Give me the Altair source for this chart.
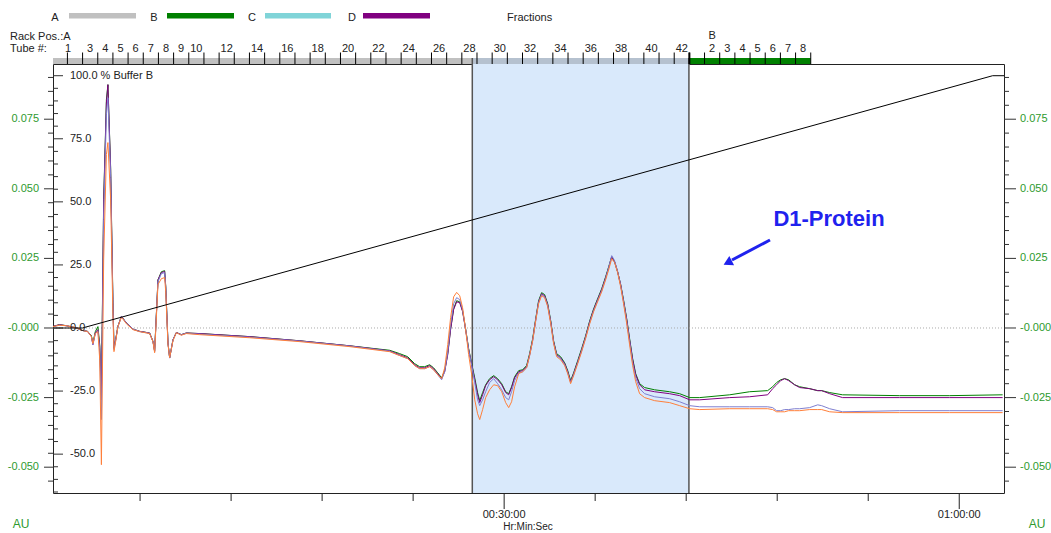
import altair as alt
import pandas as pd

FONT = "Liberation Sans"
GREEN_TXT = "#2e9a2e"

# ---------------- data ----------------
time_min = [0.26, 0.70, 1.16, 1.82, 2.21, 2.54, 2.79, 2.89, 3.05, 3.22,
            3.34, 3.45, 3.60, 3.78, 3.88, 4.06, 4.21, 4.28, 4.39, 4.54,
            4.77, 5.10, 5.53, 5.97, 6.63, 6.85, 6.96, 7.18, 7.40, 7.62,
            7.69, 7.84, 7.95, 8.17, 8.39, 8.72, 9.05, 9.93, 13.22, 16.52,
            19.82, 22.45, 23.11, 23.64, 24.10, 24.43, 24.76, 25.09, 25.35, 25.62,
            25.88, 26.08, 26.28, 26.47, 26.67, 26.87, 27.07, 27.26, 27.46, 27.66,
            27.86, 28.06, 28.25, 28.39, 28.58, 28.78, 29.04, 29.31, 29.57, 29.84,
            30.10, 30.30, 30.49, 30.69, 30.96, 31.22, 31.48, 31.68, 31.88, 32.08,
            32.27, 32.47, 32.67, 32.87, 33.07, 33.26, 33.46, 33.72, 33.99, 34.19,
            34.38, 34.58, 34.85, 35.11, 35.37, 35.64, 35.90, 36.16, 36.43, 36.69,
            36.89, 37.09, 37.28, 37.48, 37.68, 37.88, 38.08, 38.27, 38.47, 38.67,
            38.93, 39.26, 39.92, 40.91, 41.57, 42.23, 42.89, 44.87, 46.18, 47.37,
            47.70, 47.96, 48.23, 48.49, 48.75, 49.15, 49.48, 50.14, 50.67, 50.93,
            51.46, 52.31, 56.07, 59.37, 62.86]

au_purple = [0.0006, 0.0012, 0.0008, 0.0, -0.0009, -0.0012, -0.0030, -0.0060, -0.0017, -0.0006,
             -0.0066, -0.0258, 0.0450, 0.0809, 0.0874, 0.0569, 0.0091, -0.0074, -0.0042, 0.0006,
             0.0042, 0.0018, -0.0004, -0.0012, -0.0018, -0.0048, -0.0084, 0.0173, 0.0199, 0.0203,
             0.0149, -0.0054, -0.0108, -0.0042, -0.0016, -0.0024, -0.0018, -0.0020, -0.0031, -0.0046,
             -0.0064, -0.0082, -0.0096, -0.0107, -0.0132, -0.0143, -0.0143, -0.0135, -0.0146, -0.0164,
             -0.0182, -0.0157, -0.0096, -0.0006, 0.0066, 0.0094, 0.0091, 0.0059, -0.0006, -0.0078,
             -0.0132, -0.0186, -0.0240, -0.0268, -0.0240, -0.0207, -0.0186, -0.0175, -0.0186, -0.0204,
             -0.0232, -0.0240, -0.0214, -0.0179, -0.0157, -0.0153, -0.0139, -0.0096, -0.0042, 0.0030,
             0.0094, 0.0123, 0.0116, 0.0084, 0.0023, -0.0049, -0.0096, -0.0107, -0.0128, -0.0157,
             -0.0193, -0.0164, -0.0121, -0.0078, -0.0031, 0.0023, 0.0066, 0.0102, 0.0138, 0.0181,
             0.0217, 0.0256, 0.0238, 0.0202, 0.0156, 0.0094, 0.0030, -0.0042, -0.0114, -0.0168,
             -0.0204, -0.0222, -0.0229, -0.0236, -0.0243, -0.0258, -0.0258, -0.0250, -0.0247, -0.0240,
             -0.0218, -0.0204, -0.0189, -0.0182, -0.0189, -0.0204, -0.0214, -0.0218, -0.0225, -0.0225,
             -0.0236, -0.0250, -0.0250, -0.0250, -0.0250]

au_green = [0.0006, 0.0012, 0.0008, 0.0, -0.0009, -0.0012, -0.0028, -0.0053, -0.0013, 0.0005,
            -0.0060, -0.0240, 0.0461, 0.0820, 0.0874, 0.0576, 0.0102, -0.0071, -0.0042, 0.0006,
            0.0042, 0.0018, -0.0004, -0.0012, -0.0018, -0.0048, -0.0082, 0.0173, 0.0202, 0.0206,
            0.0152, -0.0053, -0.0107, -0.0042, -0.0016, -0.0024, -0.0018, -0.0020, -0.0031, -0.0046,
            -0.0064, -0.0080, -0.0092, -0.0103, -0.0128, -0.0139, -0.0139, -0.0132, -0.0143, -0.0161,
            -0.0179, -0.0153, -0.0092, -0.0003, 0.0069, 0.0098, 0.0094, 0.0062, -0.0003, -0.0074,
            -0.0128, -0.0179, -0.0232, -0.0261, -0.0232, -0.0204, -0.0182, -0.0171, -0.0182, -0.0200,
            -0.0229, -0.0236, -0.0211, -0.0175, -0.0153, -0.0150, -0.0135, -0.0092, -0.0038, 0.0033,
            0.0098, 0.0127, 0.0120, 0.0087, 0.0026, -0.0046, -0.0092, -0.0103, -0.0125, -0.0153,
            -0.0189, -0.0161, -0.0117, -0.0074, -0.0028, 0.0026, 0.0069, 0.0105, 0.0141, 0.0184,
            0.0220, 0.0256, 0.0238, 0.0202, 0.0156, 0.0098, 0.0033, -0.0038, -0.0110, -0.0164,
            -0.0200, -0.0214, -0.0222, -0.0229, -0.0236, -0.0250, -0.0250, -0.0240, -0.0229, -0.0225,
            -0.0211, -0.0196, -0.0186, -0.0182, -0.0186, -0.0204, -0.0211, -0.0218, -0.0225, -0.0225,
            -0.0232, -0.0240, -0.0243, -0.0243, -0.0240]

au_blue = [0.0005, 0.0010, 0.0008, 0.0, -0.0009, -0.0013, -0.0031, -0.0060, -0.0020, -0.0010,
           -0.0078, -0.0329, 0.0389, 0.0766, 0.0827, 0.0540, 0.0084, -0.0078, -0.0046, 0.0005,
           0.0041, 0.0017, -0.0004, -0.0013, -0.0019, -0.0049, -0.0085, 0.0166, 0.0195, 0.0199,
           0.0145, -0.0053, -0.0107, -0.0042, -0.0017, -0.0024, -0.0019, -0.0022, -0.0033, -0.0047,
           -0.0065, -0.0083, -0.0099, -0.0110, -0.0135, -0.0146, -0.0146, -0.0139, -0.0150, -0.0168,
           -0.0186, -0.0157, -0.0085, 0.0012, 0.0087, 0.0109, 0.0102, 0.0066, -0.0003, -0.0078,
           -0.0135, -0.0196, -0.0258, -0.0279, -0.0258, -0.0229, -0.0196, -0.0182, -0.0200, -0.0222,
           -0.0250, -0.0258, -0.0229, -0.0189, -0.0161, -0.0157, -0.0143, -0.0099, -0.0046, 0.0026,
           0.0091, 0.0120, 0.0112, 0.0080, 0.0019, -0.0053, -0.0099, -0.0110, -0.0132, -0.0161,
           -0.0196, -0.0168, -0.0125, -0.0082, -0.0035, 0.0019, 0.0062, 0.0098, 0.0134, 0.0177,
           0.0217, 0.0260, 0.0242, 0.0202, 0.0152, 0.0091, 0.0023, -0.0049, -0.0125, -0.0179,
           -0.0218, -0.0236, -0.0247, -0.0254, -0.0265, -0.0279, -0.0283, -0.0283, -0.0283, -0.0283,
           -0.0286, -0.0297, -0.0297, -0.0293, -0.0293, -0.0290, -0.0290, -0.0286, -0.0276, -0.0279,
           -0.0290, -0.0301, -0.0297, -0.0297, -0.0297]

au_orange = [0.0005, 0.0010, 0.0008, 0.0, -0.0009, -0.0013, -0.0031, -0.0056, -0.0020, -0.0013,
             -0.0114, -0.0491, 0.0245, 0.0623, 0.0666, 0.0461, 0.0048, -0.0085, -0.0049, 0.0005,
             0.0039, 0.0015, -0.0006, -0.0013, -0.0020, -0.0049, -0.0089, 0.0156, 0.0177, 0.0181,
             0.0130, -0.0060, -0.0106, -0.0046, -0.0017, -0.0026, -0.0020, -0.0024, -0.0035, -0.0049,
             -0.0067, -0.0085, -0.0099, -0.0110, -0.0135, -0.0146, -0.0146, -0.0139, -0.0150, -0.0168,
             -0.0182, -0.0143, -0.0060, 0.0037, 0.0112, 0.0128, 0.0116, 0.0073, -0.0006, -0.0096,
             -0.0168, -0.0258, -0.0308, -0.0329, -0.0293, -0.0250, -0.0222, -0.0204, -0.0207, -0.0229,
             -0.0268, -0.0286, -0.0265, -0.0211, -0.0164, -0.0157, -0.0143, -0.0099, -0.0046, 0.0026,
             0.0087, 0.0116, 0.0109, 0.0077, 0.0015, -0.0056, -0.0103, -0.0114, -0.0135, -0.0164,
             -0.0200, -0.0171, -0.0128, -0.0085, -0.0038, 0.0015, 0.0059, 0.0094, 0.0130, 0.0173,
             0.0209, 0.0249, 0.0235, 0.0199, 0.0148, 0.0084, 0.0015, -0.0060, -0.0135, -0.0193,
             -0.0236, -0.0250, -0.0261, -0.0268, -0.0279, -0.0290, -0.0293, -0.0290, -0.0290, -0.0290,
             -0.0293, -0.0301, -0.0301, -0.0301, -0.0297, -0.0297, -0.0297, -0.0293, -0.0293, -0.0293,
             -0.0301, -0.0304, -0.0304, -0.0304, -0.0304]

# % Buffer B gradient
grad_time = [0.26, 2.20, 62.20, 62.95]
grad_pct = [0.0, 0.0, 100.0, 100.0]

# collected fractions (time window highlighted)
box_start = [27.90]
box_end = [42.18]

# fraction collector racks
rack_names = ["A", "B"]
rack_start = [0.26, 42.21]
rack_end = [42.21, 50.21]
rack_colors = ["#c0c0c0", "#008000"]
tube_ends = [k + 0.21 for k in range(1, 51)]          # 1 min fractions
a_labels = [1, 3, 4, 5, 6, 7, 8, 9, 10] + list(range(12, 43, 2))
b_labels = [2, 3, 4, 5, 6, 7, 8]

# axes
au_major = [-0.050, -0.025, 0.0, 0.025, 0.050, 0.075]
au_major_lab = ["-0.050", "-0.025", "-0.000", "0.025", "0.050", "0.075"]
au_minor = [-0.055, -0.045, -0.040, -0.035, -0.030, -0.020, -0.015, -0.010, -0.005,
            0.005, 0.010, 0.015, 0.020, 0.030, 0.035, 0.040, 0.045, 0.055, 0.060,
            0.065, 0.070, 0.080, 0.085, 0.090]
pct_major = [-50, -25, 0, 25, 50, 75, 100]
pct_major_lab = ["-50.0", "-25.0", "0.0", "25.0", "50.0", "75.0", "100.0 % Buffer B"]
pct_minor = [-65, -60, -55, -45, -40, -35, -30, -20, -15, -10, -5, 5, 10, 15, 20,
             30, 35, 40, 45, 55, 60, 65, 70, 80, 85, 90, 95]
time_minor = [6, 12, 18, 24, 36, 42, 48, 54]
time_major = [30, 60]
time_major_lab = ["00:30:00", "01:00:00"]

legend_names = ["A", "B", "C", "D"]
legend_colors = ["#c0c0c0", "#008000", "#80d4d8", "#800080"]

# ---------------- chart ----------------
W, H = 951, 429
xs = alt.Scale(domain=[0.26, 62.95], nice=False, zero=False)
ys_au = alt.Scale(domain=[-0.05927, 0.09483], nice=False, zero=False)
ys_pct = alt.Scale(domain=[-65.40, 104.64], nice=False, zero=False)
one = pd.DataFrame({"a": [0]})


def X(f):
    return alt.X(f, type="quantitative", scale=xs, axis=None)


def YA(f):
    return alt.Y(f, type="quantitative", scale=ys_au, axis=None)


def YP(f):
    return alt.Y(f, type="quantitative", scale=ys_pct, axis=None)


def rule_px(x1, x2, y1, y2, color="#000", width=1):
    return alt.Chart(one).mark_rule(color=color, strokeWidth=width).encode(
        x=alt.value(x1), x2=alt.value(x2), y=alt.value(y1), y2=alt.value(y2))


def text_px(s, x, y, size=11, color="#222", align="left", baseline="alphabetic", weight="normal"):
    return alt.Chart(one).mark_text(text=s, align=align, baseline=baseline, fontSize=size,
                                    color=color, font=FONT, fontWeight=weight).encode(
        x=alt.value(x), y=alt.value(y))


layers = []

# highlighted collection window
box_df = pd.DataFrame({"s": box_start, "e": box_end})
layers.append(alt.Chart(box_df).mark_rect(color="#d9e9fb").encode(
    x=X("s"), x2="e", y=alt.value(0), y2=alt.value(H)))

# fraction bars
rack_df = pd.DataFrame({"r": rack_names, "s": rack_start, "e": rack_end, "c": rack_colors})
layers.append(alt.Chart(rack_df).mark_rect().encode(
    x=X("s"), x2="e", y=alt.value(-6), y2=alt.value(0),
    color=alt.Color("c:N", scale=None)))
layers.append(alt.Chart(box_df).mark_rect(color="#a9c4e2", opacity=0.45).encode(
    x=X("s"), x2="e", y=alt.value(-6), y2=alt.value(0)))
# window borders
bord_df = pd.DataFrame({"t": box_start + box_end})
layers.append(alt.Chart(bord_df).mark_rule(color="#555", strokeWidth=1.5).encode(
    x=X("t"), y=alt.value(-6), y2=alt.value(H)))

# zero line
layers.append(alt.Chart(pd.DataFrame({"v": [0.0]})).mark_rule(
    color="#aaa", strokeDash=[1, 2], strokeWidth=1).encode(
    y=YA("v"), x=alt.value(0), x2=alt.value(W)))

# UV traces
df = pd.DataFrame({"t": time_min, "g": au_green, "p": au_purple, "b": au_blue, "o": au_orange})
for col, c in [("g", "#008000"), ("p", "#800080"), ("b", "#7f7fd0"), ("o", "#ff7f3a")]:
    layers.append(alt.Chart(df).mark_line(color=c, strokeWidth=1).encode(x=X("t"), y=YA(col)))

# gradient
grad_df = pd.DataFrame({"t": grad_time, "p": grad_pct})
layers.append(alt.Chart(grad_df).mark_line(color="#000", strokeWidth=1).encode(x=X("t"), y=YP("p")))

# fraction ticks
tick_df = pd.DataFrame({"t": tube_ends})
layers.append(alt.Chart(tick_df).mark_rule(color="#000", strokeWidth=1).encode(
    x=X("t"), y=alt.value(-11.5), y2=alt.value(0)))
layers.append(alt.Chart(pd.DataFrame({"t": [rack_end[0]]})).mark_rule(color="#000", strokeWidth=2).encode(
    x=X("t"), y=alt.value(-11.5), y2=alt.value(0)))

# fraction labels
lab_t = [tube_ends[0] + 0.04] + [k - 0.29 for k in a_labels[1:]] + [rack_start[1] + k - 0.5 for k in b_labels]
lab_s = [str(k) for k in a_labels] + [str(k) for k in b_labels]
flab_df = pd.DataFrame({"t": lab_t, "s": lab_s})
layers.append(alt.Chart(flab_df).mark_text(fontSize=11, font=FONT, color="#222", align="center",
                                           baseline="alphabetic").encode(
    x=X("t"), y=alt.value(-12.5), text="s:N"))
layers.append(alt.Chart(pd.DataFrame({"t": [rack_start[1] + 1.5], "s": ["B"]})).mark_text(
    fontSize=11, font=FONT, color="#222", align="center", baseline="alphabetic").encode(
    x=X("t"), y=alt.value(-25), text="s:N"))

# left / right AU ticks and labels
aumaj = pd.DataFrame({"v": au_major, "s": au_major_lab})
aumin = pd.DataFrame({"v": au_minor})
layers.append(alt.Chart(aumaj).mark_rule(color="#333").encode(y=YA("v"), x=alt.value(-9), x2=alt.value(0)))
layers.append(alt.Chart(aumin).mark_rule(color="#333").encode(y=YA("v"), x=alt.value(-5), x2=alt.value(0)))
layers.append(alt.Chart(aumaj).mark_rule(color="#333").encode(y=YA("v"), x=alt.value(W), x2=alt.value(W + 12)))
layers.append(alt.Chart(aumin).mark_rule(color="#333").encode(y=YA("v"), x=alt.value(W), x2=alt.value(W + 5)))
layers.append(alt.Chart(aumaj).mark_text(fontSize=11, font=FONT, color=GREEN_TXT, align="right",
                                         baseline="middle").encode(y=YA("v"), x=alt.value(-14), text="s:N"))
layers.append(alt.Chart(aumaj).mark_text(fontSize=11, font=FONT, color=GREEN_TXT, align="left",
                                         baseline="middle").encode(y=YA("v"), x=alt.value(W + 16), text="s:N"))

# % Buffer B ticks and labels (inside)
pmaj = pd.DataFrame({"v": pct_major, "s": pct_major_lab})
pmin = pd.DataFrame({"v": pct_minor})
layers.append(alt.Chart(pmaj).mark_rule(color="#333").encode(y=YP("v"), x=alt.value(0), x2=alt.value(10)))
layers.append(alt.Chart(pmin).mark_rule(color="#333").encode(y=YP("v"), x=alt.value(0), x2=alt.value(5)))
layers.append(alt.Chart(pmaj).mark_text(fontSize=11, font=FONT, color="#222", align="left",
                                        baseline="middle").encode(y=YP("v"), x=alt.value(17), text="s:N"))

# time axis
layers.append(alt.Chart(pd.DataFrame({"t": time_minor})).mark_rule(color="#222").encode(
    x=X("t"), y=alt.value(H), y2=alt.value(H + 8)))
tmaj = pd.DataFrame({"t": time_major, "s": time_major_lab})
layers.append(alt.Chart(tmaj).mark_rule(color="#222").encode(
    x=X("t"), y=alt.value(H), y2=alt.value(H + 16)))
layers.append(alt.Chart(tmaj).mark_text(fontSize=11, font=FONT, color="#222", align="center",
                                        baseline="alphabetic").encode(
    x=X("t"), y=alt.value(H + 25), text="s:N"))
layers.append(text_px("Hr:Min:Sec", 475, H + 37, size=10, align="center"))
layers.append(text_px("AU", -32, H + 35, color=GREEN_TXT, align="center", size=12))
layers.append(text_px("AU", 984, H + 35, color=GREEN_TXT, align="center", size=12))

# header texts
layers.append(text_px("Rack Pos.:A", -43, -24))
layers.append(text_px("Tube #:", -43, -12))
leg_text_x = [2, 101, 199, 299]
leg_bar_x = [(16, 83), (114, 181), (212, 278), (310, 377)]
for n, c, tx, (b1, b2) in zip(legend_names, legend_colors, leg_text_x, leg_bar_x):
    layers.append(text_px(n, tx, -43.5, align="center"))
    layers.append(alt.Chart(one).mark_rect(color=c).encode(
        x=alt.value(b1), x2=alt.value(b2), y=alt.value(-51), y2=alt.value(-45.5)))
layers.append(text_px("Fractions", 454, -43.5))

# annotation
layers.append(text_px("D1-Protein", 776, 155, size=22, color="#1f22ee", align="center",
                      baseline="middle", weight="bold"))
layers.append(rule_px(717, 679, 176, 196, color="#1f22ee", width=3))
layers.append(alt.Chart(one).mark_point(shape="triangle", filled=True, size=110, angle=243,
                                        color="#1f22ee", opacity=1).encode(
    x=alt.value(676), y=alt.value(198)))

chart = alt.layer(*layers).resolve_scale(y="independent").properties(
    width=W, height=H,
    padding={"left": 53, "top": 64, "right": 47, "bottom": 40},
    autosize=alt.AutoSizeParams(type="none"),
    background="white",
).configure_view(stroke="#222", strokeWidth=1)

chart.save("out.html", embed_options={"renderer": "svg", "actions": False})
